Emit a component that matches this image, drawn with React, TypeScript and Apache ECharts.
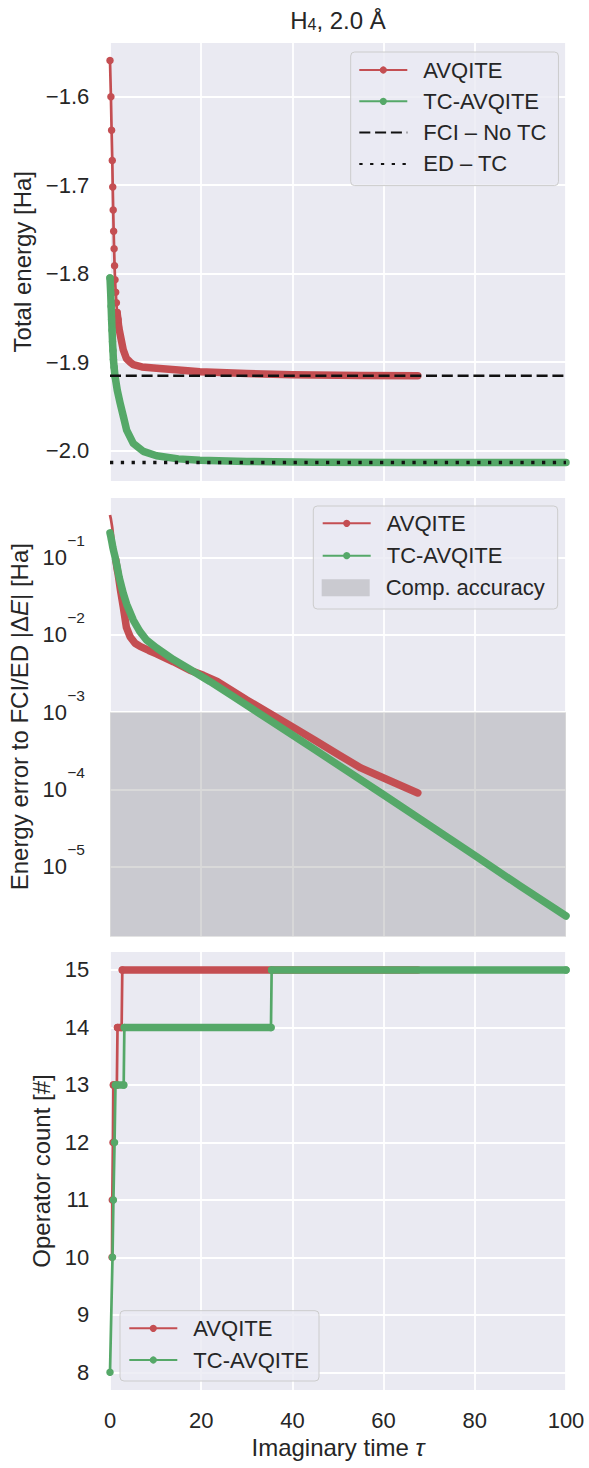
import React, { useEffect, useRef } from 'react';
import * as echarts from 'echarts';

const RED = '#C44E52';
const GREEN = '#55A868';
const FONT = "'Liberation Sans', Arial, sans-serif";
const TXT = '#262626';
const BG = '#EAEAF2';

// ---------- Panel 1: total energy ----------
const avqiteTau1 = [0, 0.2, 0.35, 0.5, 0.6, 0.7, 0.8, 0.9, 1.0, 1.1, 1.25, 1.4, 1.55, 1.75, 1.9, 2.2, 2.55, 2.9, 3.6, 4.4, 5.1, 7, 10.2, 15, 19.7, 30, 40, 55, 67.5];
const avqiteE1 = [-1.559, -1.6, -1.638, -1.672, -1.702, -1.728, -1.752, -1.772, -1.791, -1.807, -1.821, -1.833, -1.844, -1.852, -1.86, -1.868, -1.877, -1.886, -1.896, -1.9, -1.903, -1.9055, -1.907, -1.909, -1.911, -1.913, -1.9145, -1.9152, -1.9154];
const AVQITE_DOTS = 15;
const AVQITE_BAND_FROM = 12;
const tcTau1 = [0, 0.15, 0.25, 0.35, 0.45, 0.55, 0.65, 0.75, 0.9, 1.1, 1.6, 2.2, 3.0, 3.65, 5.1, 7.3, 10.2, 15, 19.7, 30, 45, 65, 100];
const tcE1 = [-1.805, -1.822, -1.837, -1.852, -1.864, -1.877, -1.887, -1.897, -1.906, -1.916, -1.932, -1.946, -1.963, -1.977, -1.992, -2.001, -2.006, -2.0095, -2.011, -2.0125, -2.0132, -2.0135, -2.0136];
const TC_DOTS = 10;
const FCI_NO_TC = -1.9155;
const ED_TC = -2.0136;
const TAU_RANGE = [0, 100];

// ---------- Panel 2: energy error ----------
const avqiteTau2 = [0, 0.2, 0.35, 0.5, 0.6, 0.7, 0.8, 0.9, 1.0, 1.1, 1.25, 1.4, 1.55, 1.75, 1.9, 2.3, 2.9, 3.6, 4.4, 5.5, 6.6, 8.5, 10.2, 13.9, 17.5, 20.5, 23.5, 30, 39.4, 45, 50.4, 55, 58.4, 63.5, 67.5];
const avqiteErr2 = [0.357, 0.316, 0.278, 0.244, 0.214, 0.188, 0.164, 0.144, 0.125, 0.109, 0.095, 0.083, 0.072, 0.063, 0.055, 0.038, 0.0232, 0.0125, 0.0095, 0.0078, 0.0071, 0.0063, 0.0057, 0.0045, 0.0035, 0.003, 0.0025, 0.00144, 0.00068, 0.00043, 0.000275, 0.00019, 0.000155, 0.000114, 0.00009];
const AVQITE_THIN2 = 12;
const AVQITE_BAND2_FROM = 10;
const tcTau2 = [0, 0.15, 0.3, 0.45, 0.6, 0.8, 1.1, 1.5, 2.0, 2.9, 3.65, 5.1, 6.5, 8.0, 10.2, 13.9, 17.5, 21.9, 27, 35, 45, 59.9, 70, 80.3, 90, 100];
const tcErr2 = [0.21, 0.192, 0.172, 0.155, 0.138, 0.122, 0.103, 0.08, 0.056, 0.0347, 0.025, 0.0156, 0.0112, 0.0086, 0.0068, 0.0048, 0.0036, 0.0025, 0.0016, 0.00079, 0.000325, 0.000086, 0.0000345, 0.0000136, 0.0000056, 0.0000023];
const COMP_ACCURACY = 1e-3;
const ERR_MIN = 1.241e-6;
const ERR_MAX = 0.616;

// ---------- Panel 3: operator count ----------
const avqiteOpsTau = [0.45, 0.5, 0.65, 0.75, 1.5, 1.65, 2.55, 2.7];
const avqiteOps = [10, 11, 12, 13, 13, 14, 14, 15];
const avqiteBandStart = [0.75, 1.65, 2.7];
const avqiteBandEnd = [1.5, 2.55, 67.5];
const avqiteBandLevel = [13, 14, 15];
const tcOpsTau = [0, 0.55, 0.75, 1.0, 1.2, 3.0, 3.15, 35.3, 35.45, 100];
const tcOps = [8, 10, 11, 12, 13, 13, 14, 14, 15, 15];
const tcBandStart = [1.2, 3.15, 35.45];
const tcBandEnd = [3.0, 35.3, 100];
const tcBandLevel = [13, 14, 15];

const pairs = (t: number[], v: number[]) => t.map((x, i) => [x, v[i]]);
const bands = (s: number[], e: number[], lv: number[]) => {
  const out: any[] = [];
  s.forEach((x, i) => { out.push([x, lv[i]], [e[i], lv[i]], ['-', '-']); });
  return out;
};

const thin = (name: string, data: any[], color: string, gi: number, z: number, symbol = true) => ({
  type: 'line', name, data, xAxisIndex: gi, yAxisIndex: gi, z,
  symbol: symbol ? 'circle' : 'none', symbolSize: 7.5, showSymbol: symbol,
  lineStyle: { width: 2.7, color }, itemStyle: { color },
  emphasis: { disabled: true }, silent: true,
});
const band = (name: string, data: any[], color: string, gi: number, z: number) => ({
  type: 'line', name, data, xAxisIndex: gi, yAxisIndex: gi, z,
  symbol: 'none', showSymbol: false,
  lineStyle: { width: 7.5, color, cap: 'round', join: 'round' }, itemStyle: { color },
  emphasis: { disabled: true }, silent: true,
});

const GRID_TOPS = [41.7, 496.7, 951];
const GRID_H = 440;

const splitLine = { show: true, lineStyle: { color: '#ffffff', width: 1.8 } };
const labelStyle = { fontSize: 22, fontFamily: FONT, color: TXT };
const exponent = (v: number) => {
  const e = Math.round(Math.log10(v));
  return `${e < 0 ? '\u2212' : ''}${Math.abs(e)}`;
};

export default function App() {
  const ref = useRef<HTMLDivElement>(null);
  useEffect(() => {
    document.body.style.margin = '0';
    const chart = echarts.init(ref.current!, null, { renderer: 'svg' });
    const xAxes = [0, 1, 2].map((i) => ({
      type: 'value', gridIndex: i, min: TAU_RANGE[0], max: TAU_RANGE[1], interval: 20,
      axisLine: { show: false }, axisTick: { show: false }, splitLine,
      axisLabel: { show: i === 2, ...labelStyle, margin: 18, lineHeight: 22 },
      name: i === 2 ? 'Imaginary time {t|τ}' : '',
      nameLocation: 'middle', nameGap: 44,
      nameTextStyle: { fontSize: 24, fontFamily: FONT, color: TXT, lineHeight: 24,
        rich: { t: { fontSize: 24, fontFamily: FONT, color: TXT, fontStyle: 'italic', lineHeight: 24 } } },
    }));
    const yAxes = [
      {
        type: 'value', gridIndex: 0, min: -2.0353, max: -1.5378, minInterval: 0.1, maxInterval: 0.1,
        axisLine: { show: false }, axisTick: { show: false }, splitLine,
        axisLabel: { ...labelStyle, margin: 20.7, showMinLabel: false, showMaxLabel: false,
          formatter: (v: number) => v.toFixed(1).replace('-', '\u2212') },
        name: 'Total energy [Ha]', nameLocation: 'middle', nameRotate: 90, nameGap: 71,
        nameTextStyle: { fontSize: 24, fontFamily: FONT, color: TXT, lineHeight: 24 },
      },
      {
        type: 'log', logBase: 10, gridIndex: 1, min: ERR_MIN, max: ERR_MAX,
        axisLine: { show: false }, axisTick: { show: false }, splitLine, minorSplitLine: { show: false },
        axisLabel: { ...labelStyle, margin: 43, showMinLabel: false, showMaxLabel: false, formatter: () => '10' },
        name: 'Energy error to FCI/ED |Δ{i|E}| [Ha]', nameLocation: 'middle', nameRotate: 90, nameGap: 75.5,
        nameTextStyle: { fontSize: 24, fontFamily: FONT, color: TXT, lineHeight: 24,
          rich: { i: { fontSize: 24, fontFamily: FONT, color: TXT, fontStyle: 'italic', lineHeight: 24 } } },
      },
      {
        type: 'value', gridIndex: 2, min: 7.675, max: 15.33, minInterval: 1, maxInterval: 1,
        axisLine: { show: false }, axisTick: { show: false }, splitLine,
        axisLabel: { ...labelStyle, margin: 20.7, showMinLabel: false, showMaxLabel: false },
        name: 'Operator count [#]', nameLocation: 'middle', nameRotate: 90, nameGap: 53,
        nameTextStyle: { fontSize: 24, fontFamily: FONT, color: TXT, lineHeight: 24 },
      },
      {
        // exponents of the log-axis labels (superscripts)
        type: 'log', logBase: 10, gridIndex: 1, min: ERR_MIN, max: ERR_MAX, position: 'left',
        axisLine: { show: false }, axisTick: { show: false }, splitLine: { show: false },
        axisLabel: { fontSize: 15.5, fontFamily: FONT, color: TXT, margin: 25, lineHeight: 34,
          verticalAlign: 'bottom', showMinLabel: false, showMaxLabel: false, formatter: exponent },
      },
    ];

    const legendCommon = {
      orient: 'vertical', itemWidth: 48, itemHeight: 9, selectedMode: false, z: 6,
      textStyle: { fontSize: 22, fontFamily: FONT, color: TXT, lineHeight: 22, padding: [0, 0, 0, 11] },
    };
    const legendBox = { borderColor: '#CCCCCC', borderWidth: 1, borderRadius: 4, backgroundColor: 'rgba(234,234,242,0.8)' };

    const series: any[] = [
      // Panel 1
      band('AVQITE band 1', pairs(avqiteTau1, avqiteE1).slice(AVQITE_BAND_FROM), RED, 0, 2),
      thin('AVQITE', pairs(avqiteTau1, avqiteE1).slice(0, AVQITE_DOTS), RED, 0, 2),
      band('TC-AVQITE band 1', pairs(tcTau1, tcE1), GREEN, 0, 3),
      thin('TC-AVQITE', pairs(tcTau1, tcE1).slice(0, TC_DOTS), GREEN, 0, 3),
      {
        type: 'line', name: 'FCI – No TC', xAxisIndex: 0, yAxisIndex: 0, symbol: 'none', z: 4,
        data: TAU_RANGE.map((t) => [t, FCI_NO_TC]),
        lineStyle: { color: '#111111', width: 2.7, type: [11, 4.8] }, itemStyle: { color: '#111111' }, silent: true,
      },
      {
        type: 'line', name: 'ED – TC', xAxisIndex: 0, yAxisIndex: 0, symbol: 'none', z: 4,
        data: TAU_RANGE.map((t) => [t, ED_TC]),
        lineStyle: { color: '#111111', width: 3.3, type: [3.3, 7.5], cap: 'butt' }, itemStyle: { color: '#111111' }, silent: true,
      },
      // Panel 2
      {
        type: 'line', name: 'Comp. accuracy', xAxisIndex: 1, yAxisIndex: 1, data: [], silent: true,
        itemStyle: { color: 'rgba(128,128,128,0.3)' }, lineStyle: { color: 'rgba(128,128,128,0.3)' },
        markArea: {
          silent: true, itemStyle: { color: 'rgba(128,128,128,0.3)' },
          data: [[{ xAxis: TAU_RANGE[0], yAxis: COMP_ACCURACY }, { xAxis: TAU_RANGE[1], yAxis: ERR_MIN }]],
        },
      },
      thin('AVQITE err thin', pairs(avqiteTau2, avqiteErr2).slice(0, AVQITE_THIN2), RED, 1, 2, false),
      band('AVQITE err band', pairs(avqiteTau2, avqiteErr2).slice(AVQITE_BAND2_FROM), RED, 1, 2),
      band('TC-AVQITE err band', pairs(tcTau2, tcErr2), GREEN, 1, 3),
      // Panel 3
      band('AVQITE ops band', bands(avqiteBandStart, avqiteBandEnd, avqiteBandLevel), RED, 2, 2),
      thin('AVQITE ops', pairs(avqiteOpsTau, avqiteOps), RED, 2, 2),
      band('TC-AVQITE ops band', bands(tcBandStart, tcBandEnd, tcBandLevel), GREEN, 2, 3),
      thin('TC-AVQITE ops', pairs(tcOpsTau, tcOps), GREEN, 2, 3),
    ];

    chart.setOption({
      animation: false,
      backgroundColor: '#ffffff',
      textStyle: { fontFamily: FONT },
      grid: GRID_TOPS.map((top) => ({
        left: 110, right: 23, top, height: GRID_H, show: true, backgroundColor: BG, borderWidth: 0,
        containLabel: false, outerBoundsMode: 'none',
      })),
      xAxis: xAxes,
      yAxis: yAxes,
      legend: [
        {
          ...legendCommon, ...legendBox, left: 350.7, top: 52, itemGap: 9.3, padding: [7, 11.7, 10.7, 7.6],
          data: [
            { name: 'AVQITE' }, { name: 'TC-AVQITE' },
            { name: 'FCI – No TC', itemStyle: { color: 'rgba(0,0,0,0)' } },
            { name: 'ED – TC', itemStyle: { color: 'rgba(0,0,0,0)' } },
          ],
        },
        { ...legendCommon, left: 321.7, top: 512.3, itemGap: 10.4, padding: 0, data: ['AVQITE', 'TC-AVQITE'] },
        {
          ...legendCommon, left: 321.7, top: 576.7, padding: 0, itemHeight: 17,
          data: [{ name: 'Comp. accuracy', icon: 'rect', itemStyle: { color: 'rgba(128,128,128,0.3)' } }],
        },
        { ...legendCommon, ...legendBox, left: 120, top: 1310.7, itemGap: 9.7, padding: [6.6, 10, 10, 8.3], data: ['AVQITE', 'TC-AVQITE'] },
      ],
      graphic: [
        {
          type: 'text', x: 338, y: 20.7, z: 10,
          style: {
            text: '{a|H}{s|4}{a|, 2.0 Å}',
            rich: {
              a: { fontSize: 24, fontFamily: FONT, fill: TXT, lineHeight: 24, verticalAlign: 'middle' },
              s: { fontSize: 16, fontFamily: FONT, fill: TXT, lineHeight: 8, verticalAlign: 'bottom' },
            },
            align: 'center', verticalAlign: 'middle', textAlign: 'center', textVerticalAlign: 'middle',
          },
        },
        {
          type: 'rect', z: 5,
          shape: { x: 313.3, y: 506, width: 244.4, height: 103, r: 4 },
          style: { fill: 'rgba(234,234,242,0.8)', stroke: '#CCCCCC', lineWidth: 1 },
        },
      ],
      series,
    });
    return () => chart.dispose();
  }, []);
  return <div ref={ref} style={{ width: 589, height: 1468 }} />;
}
